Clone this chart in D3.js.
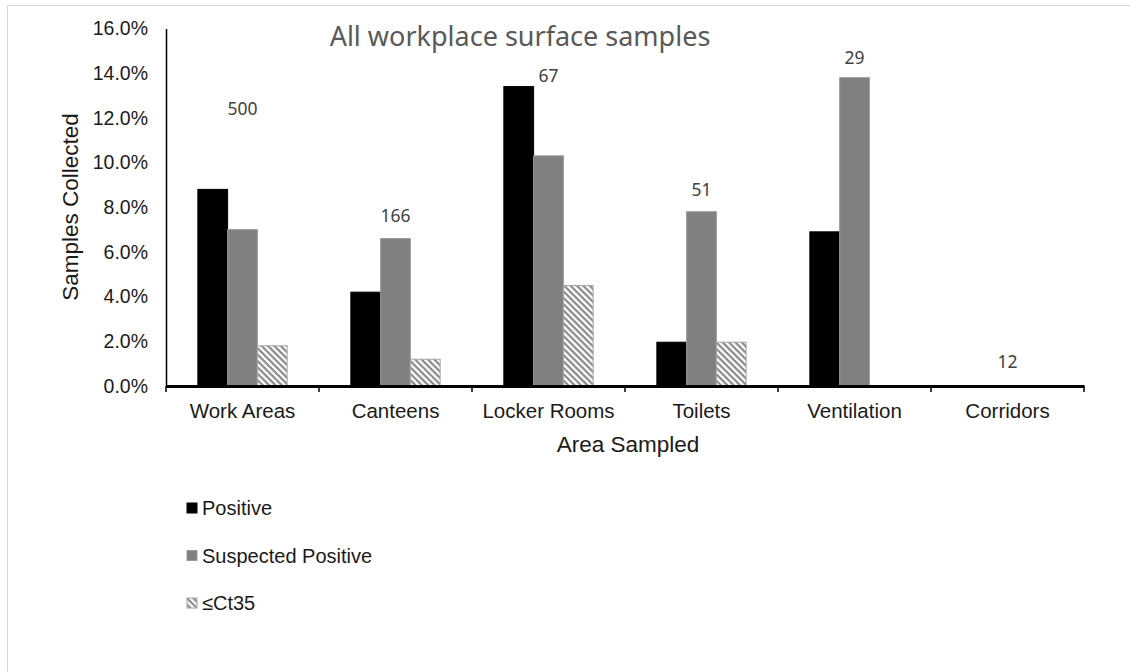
<!DOCTYPE html>
<html>
<head>
<meta charset="utf-8">
<script src="https://cdn.jsdelivr.net/npm/d3@7"></script>
<style>
  body { margin: 0; background: #fff; }
  svg { display: block; }
</style>
</head>
<body>
<div id="chart"></div>
<script>
// data
var categories = ["Work Areas", "Canteens", "Locker Rooms", "Toilets", "Ventilation", "Corridors"];
var seriesNames = ["Positive", "Suspected Positive", "\u2264Ct35"];
var positive = [0.088, 0.042, 0.134, 0.0196, 0.069, 0];
var suspected = [0.070, 0.066, 0.103, 0.078, 0.138, 0];
var ct35 = [0.018, 0.012, 0.045, 0.0196, 0, 0];
var sampleCounts = ["500", "166", "67", "51", "29", "12"];
var countLabelLevel = [0.124, 0.076, 0.139, 0.088, 0.147, 0.011];
var yTicks = [0, 0.02, 0.04, 0.06, 0.08, 0.10, 0.12, 0.14, 0.16];

var W = 1130, H = 672;
var svg = d3.select("#chart").append("svg")
    .attr("width", W)
    .attr("height", H);

// hatch pattern for the <=Ct35 series
var defs = svg.append("defs");
var pat = defs.append("pattern")
    .attr("id", "hatch")
    .attr("patternUnits", "userSpaceOnUse")
    .attr("width", 4.5)
    .attr("height", 4.5)
    .attr("patternTransform", "rotate(45)");
pat.append("rect").attr("width", 4.5).attr("height", 4.5).attr("fill", "#fff");
pat.append("rect").attr("width", 4.5).attr("height", 2.2).attr("fill", "#8a8a8a");

// outer frame (only top / left edges are visible in the picture)
svg.append("rect")
    .attr("x", 7.5).attr("y", 5.5)
    .attr("width", W + 20).attr("height", H + 20)
    .attr("fill", "none")
    .attr("stroke", "#d9d9d9");

var plotLeft = 166, plotRight = 1084, plotTop = 28.5, plotBottom = 386;

var x0 = d3.scaleBand()
    .domain(categories)
    .range([plotLeft, plotRight])
    .paddingInner(0)
    .paddingOuter(0);

var x1 = d3.scaleBand()
    .domain(seriesNames)
    .range([0, x0.bandwidth()])
    .paddingInner(0)
    .paddingOuter(1.07);

var y = d3.scaleLinear()
    .domain([0, 0.16])
    .range([plotBottom, plotTop]);

var fills = ["#000000", "#808080", "url(#hatch)"];
var strokes = ["#000000", "#9a9a9a", "#a6a6a6"];
var seriesValues = [positive, suspected, ct35];

// bars
seriesNames.forEach(function(s, si) {
    svg.append("g")
        .selectAll("rect")
        .data(categories.map(function(c, i) { return {cat: c, v: seriesValues[si][i]}; }))
        .enter().append("rect")
        .filter(function(d) { return d.v > 0; })
        .attr("x", function(d) { return x0(d.cat) + x1(s); })
        .attr("y", function(d) { return y(d.v); })
        .attr("width", x1.bandwidth())
        .attr("height", function(d) { return y(0) - y(d.v); })
        .attr("fill", fills[si])
        .attr("stroke", strokes[si])
        .attr("stroke-width", 1);
});

// y axis
var yAxis = svg.append("g")
    .attr("transform", "translate(" + plotLeft + ",0)")
    .call(d3.axisLeft(y).tickValues(yTicks).tickFormat(d3.format(".1%")).tickSize(0).tickPadding(18));
yAxis.select(".domain").attr("stroke", "#000").attr("stroke-width", 1.5);
yAxis.selectAll("text")
    .attr("font-family", "Liberation Sans, Arial, sans-serif")
    .attr("font-size", 19.5)
    .attr("fill", "#1a1a1a");

// x axis
var xAxis = svg.append("g")
    .attr("transform", "translate(0," + plotBottom + ")")
    .call(d3.axisBottom(x0).tickSize(0).tickPadding(17));
xAxis.select(".domain").attr("stroke", "#000").attr("stroke-width", 3);
xAxis.selectAll("text")
    .attr("font-family", "Liberation Sans, Arial, sans-serif")
    .attr("font-size", 20.5)
    .attr("fill", "#1a1a1a");

// category boundary tick marks
svg.append("g")
    .selectAll("line")
    .data([categories[0]].concat(categories))
    .enter().append("line")
    .attr("x1", function(d, i) { return i === 0 ? plotLeft : x0(d) + x0.bandwidth(); })
    .attr("x2", function(d, i) { return i === 0 ? plotLeft : x0(d) + x0.bandwidth(); })
    .attr("y1", plotBottom)
    .attr("y2", plotBottom + 6)
    .attr("stroke", "#000")
    .attr("stroke-width", 1.5);

// sample count labels
svg.append("g")
    .selectAll("text")
    .data(categories)
    .enter().append("text")
    .attr("x", function(d) { return x0(d) + x1("Suspected Positive") + x1.bandwidth() / 2; })
    .attr("y", function(d, i) { return y(countLabelLevel[i]); })
    .attr("dy", "0.35em")
    .attr("text-anchor", "middle")
    .attr("font-family", "Noto Sans, sans-serif")
    .attr("font-size", 17.5)
    .attr("fill", "#404040")
    .text(function(d, i) { return sampleCounts[i]; });

// title
svg.append("text")
    .attr("x", 520)
    .attr("y", 46)
    .attr("text-anchor", "middle")
    .attr("font-family", "Noto Sans, sans-serif")
    .attr("font-size", 27)
    .attr("fill", "#595959")
    .text("All workplace surface samples");

// axis titles
svg.append("text")
    .attr("transform", "translate(78,207) rotate(-90)")
    .attr("text-anchor", "middle")
    .attr("font-family", "Liberation Sans, Arial, sans-serif")
    .attr("font-size", 22.5)
    .attr("fill", "#1a1a1a")
    .text("Samples Collected");

svg.append("text")
    .attr("x", 628)
    .attr("y", 452)
    .attr("text-anchor", "middle")
    .attr("font-family", "Liberation Sans, Arial, sans-serif")
    .attr("font-size", 22.5)
    .attr("fill", "#1a1a1a")
    .text("Area Sampled");

// legend
var legend = svg.append("g")
    .selectAll("g")
    .data(seriesNames)
    .enter().append("g")
    .attr("transform", function(d, i) { return "translate(187," + (508 + i * 47.5) + ")"; });
legend.append("rect")
    .attr("x", 0).attr("y", -5)
    .attr("width", 10).attr("height", 10)
    .attr("fill", function(d, i) { return fills[i]; })
    .attr("stroke", function(d, i) { return strokes[i]; })
    .attr("stroke-width", 1);
legend.append("text")
    .attr("x", 15)
    .attr("dy", "0.35em")
    .attr("font-family", "Liberation Sans, Arial, sans-serif")
    .attr("font-size", 20)
    .attr("fill", "#1a1a1a")
    .text(function(d) { return d; });
</script>
</body>
</html>
